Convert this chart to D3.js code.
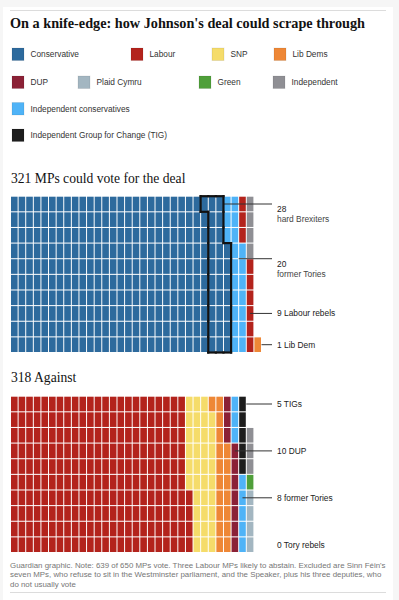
<!DOCTYPE html>
<html>
<head>
<meta charset="utf-8">
<script src="https://cdn.jsdelivr.net/npm/d3@7"></script>
<style>
  body { margin: 0; background: #f6f6f6; }
  svg { display: block; }
</style>
</head>
<body>
<div id="chart"></div>
<script>
// legend order and party colours
const legendParties = [
    "Conservative", "Labour", "SNP", "Lib Dems",
    "DUP", "Plaid Cymru", "Green", "Independent",
    "Independent conservatives",
    "Independent Group for Change (TIG)"
];
const partyColors = [
    "#2d6a9d", "#b3231c", "#f5dc6a", "#ee8736",
    "#8b2136", "#a3b6c1", "#4f9f3a", "#8f8f94",
    "#4fb3f7",
    "#1d1d1d"
];

// 321 for the deal, filled column by column from the bottom
const forParties = ["Conservative", "Independent conservatives", "Labour", "Independent", "Lib Dems"];
const forSeats = [287, 20, 9, 4, 1];
const hardBrexiters = 28;  // last Tory cells, drawn with a black outline

// 318 against
const againstParties = ["Labour", "SNP", "Lib Dems", "DUP", "Independent conservatives",
    "Independent Group for Change (TIG)", "Plaid Cymru", "Green", "Independent"];
const againstSeats = [234, 35, 18, 10, 8, 5, 4, 1, 3];

// labels to the right of the grids
const forNotes = [
    {num: "28", text: "hard Brexiters", col: 28, row: 0, two: true},
    {num: "20", text: "former Tories", col: 30, row: 3.5, two: true},
    {num: "9", text: "Labour rebels", col: 31.5, row: 7},
    {num: "1", text: "Lib Dem", col: 33, row: 9}
];
const againstNotes = [
    {num: "5", text: "TIGs", col: 31, row: 0},
    {num: "10", text: "DUP", col: 29.5, row: 3},
    {num: "8", text: "former Tories", col: 30.5, row: 6},
    {num: "0", text: "Tory rebels", col: null, row: 9}
];

const title = "On a knife-edge: how Johnson's deal could scrape through";
const forTitle = "321 MPs could vote for the deal";
const againstTitle = "318 Against";
const noteLines = [
    "Guardian graphic. Note: 639 of 650 MPs vote. Three Labour MPs likely to abstain. Excluded are Sinn Féin's",
    "seven MPs, who refuse to sit in the Westminster parliament, and the Speaker, plus his three deputies, who",
    "do not usually vote"
];

const W = 399, H = 600;
const rows = 10, cols = 33;
const sans = "'Liberation Sans', Arial, sans-serif";
const serif = "'Liberation Serif', 'DejaVu Serif', serif";

const color = d3.scaleOrdinal().domain(legendParties).range(partyColors);

const svg = d3.select("#chart").append("svg")
    .attr("width", W)
    .attr("height", H);

// white page with the grey frame round it
svg.append("rect").attr("x", 3).attr("y", 7).attr("width", 390).attr("height", H - 7).attr("fill", "#fff");
svg.append("line").attr("x1", 10).attr("x2", 386).attr("y1", 10.5).attr("y2", 10.5).attr("stroke", "#dcdcdc");
svg.append("line").attr("x1", 10).attr("x2", 386).attr("y1", 592.5).attr("y2", 592.5).attr("stroke", "#dcdcdc");

svg.append("text")
    .attr("x", 10).attr("y", 28)
    .attr("font-family", serif).attr("font-weight", "bold").attr("font-size", 15.5)
    .attr("textLength", 355).attr("lengthAdjust", "spacingAndGlyphs")
    .attr("fill", "#121212")
    .text(title);

// legend
const legendPos = [
    [12, 48], [131, 48], [212, 48], [274, 48],
    [12, 76], [78, 76], [199, 76], [273, 76],
    [12, 102.5],
    [12, 129]
];
const legend = svg.append("g").selectAll("g")
    .data(legendParties)
    .join("g")
    .attr("transform", (d, i) => `translate(${legendPos[i][0]},${legendPos[i][1]})`);
legend.append("rect")
    .attr("width", 12).attr("height", 12.5)
    .attr("fill", d => color(d))
    .attr("stroke", "rgba(0,0,0,0.08)");
legend.append("text")
    .attr("x", 18.5).attr("y", 9.3)
    .attr("font-family", sans).attr("font-size", 8.3)
    .attr("fill", "#333")
    .text(d => d);

const x = d3.scaleBand().domain(d3.range(cols)).range([11, 261]).paddingInner(0.13);
const xAt = c => x.range()[0] + c * x.step() - x.step() * x.paddingInner() / 2;

function cellsFrom(parties, seats) {
    const out = [];
    parties.forEach((p, k) => {
        for (let j = 0; j < seats[k]; j++) out.push({party: p, i: out.length});
    });
    out.forEach(d => {
        d.col = Math.floor(d.i / rows);
        d.row = rows - 1 - d.i % rows;
    });
    return out;
}

function drawGrid(cells, top, heading, headY, notes) {
    const y = d3.scaleBand().domain(d3.range(rows)).range([top, top + 155.3]).paddingInner(0.065);
    const yAt = r => y.range()[0] + (r + 0.5) * y.step() - y.step() * y.paddingInner() / 2;

    svg.append("text")
        .attr("x", 11).attr("y", headY)
        .attr("font-family", serif).attr("font-size", 13.6)
        .attr("fill", "#121212")
        .text(heading);

    const g = svg.append("g");
    g.selectAll("rect")
        .data(cells)
        .join("rect")
        .attr("x", d => x(d.col))
        .attr("y", d => y(d.row))
        .attr("width", x.bandwidth())
        .attr("height", y.bandwidth())
        .attr("fill", d => color(d.party));

    const ann = svg.append("g").selectAll("g")
        .data(notes)
        .join("g");
    ann.filter(d => d.col !== null).append("line")
        .attr("x1", d => xAt(d.col)).attr("x2", 272)
        .attr("y1", d => yAt(d.row)).attr("y2", d => yAt(d.row))
        .attr("stroke", "#333").attr("stroke-width", 1);
    const t = ann.append("text")
        .attr("x", 277)
        .attr("y", d => yAt(d.row) + (d.two ? 8 : 3))
        .attr("font-family", sans).attr("font-size", 8.4)
        .attr("fill", "#222");
    t.append("tspan").text(d => d.num + (d.two ? "" : " "));
    t.filter(d => d.two).append("tspan")
        .attr("x", 277).attr("dy", 10.3)
        .attr("fill", "#444")
        .text(d => d.text);
    t.filter(d => !d.two).append("tspan").text(d => d.text);

    return {y, g};
}

const forCells = cellsFrom(forParties, forSeats);
const againstCells = cellsFrom(againstParties, againstSeats);

const forGrid = drawGrid(forCells, 196.7, forTitle, 183, forNotes);
drawGrid(againstCells, 396.7, againstTitle, 381.5, againstNotes);

// outline round the hard Brexiters: every cell side that has no neighbour in the set
const toryCount = forSeats[forParties.indexOf("Conservative")];
const hard = forCells.filter(d => d.party === "Conservative" && d.i >= toryCount - hardBrexiters);
const inSet = new Set(hard.map(d => d.col + ":" + d.row));
const yF = forGrid.y;
const bx = c => x.range()[0] + c * x.step() - x.step() * x.paddingInner() / 2;
const by = r => yF.range()[0] + r * yF.step() - yF.step() * yF.paddingInner() / 2;
const edges = [];
hard.forEach(d => {
    if (!inSet.has((d.col - 1) + ":" + d.row)) edges.push([bx(d.col), by(d.row), bx(d.col), by(d.row + 1)]);
    if (!inSet.has((d.col + 1) + ":" + d.row)) edges.push([bx(d.col + 1), by(d.row), bx(d.col + 1), by(d.row + 1)]);
    if (!inSet.has(d.col + ":" + (d.row - 1))) edges.push([bx(d.col), by(d.row), bx(d.col + 1), by(d.row)]);
    if (!inSet.has(d.col + ":" + (d.row + 1))) edges.push([bx(d.col), by(d.row + 1), bx(d.col + 1), by(d.row + 1)]);
});
svg.append("g").selectAll("line")
    .data(edges)
    .join("line")
    .attr("x1", d => d[0]).attr("y1", d => d[1])
    .attr("x2", d => d[2]).attr("y2", d => d[3])
    .attr("stroke", "#111").attr("stroke-width", 2.2)
    .attr("stroke-linecap", "square");

// footnote
svg.append("g").selectAll("text")
    .data(noteLines)
    .join("text")
    .attr("x", 10)
    .attr("y", (d, i) => 568 + i * 9.3)
    .attr("font-family", sans).attr("font-size", 7.9)
    .attr("fill", "#767676")
    .text(d => d);
</script>
</body>
</html>
